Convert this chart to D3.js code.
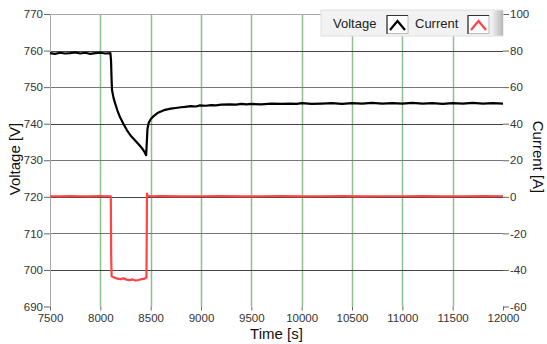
<!DOCTYPE html>
<html>
<head>
<meta charset="utf-8">
<script src="https://cdn.jsdelivr.net/npm/d3@7"></script>
<style>
  body { margin: 0; background: #fff; }
  svg { display: block; font-family: "Liberation Sans", Arial, sans-serif; }
  .tick-label { font-size: 11.5px; fill: #333; }
  .axis-title { font-size: 15px; fill: #111; }
  .legend-text { font-size: 13px; fill: #222; }
</style>
</head>
<body>
<div id="chart"></div>
<script>
// voltage trace [s, V]
var voltageTime = [7500, 7550, 7600, 7650, 7700, 7750, 7800, 7850, 7900, 7950, 8000, 8050, 8100,
  8106, 8112, 8116, 8130, 8146, 8170, 8195, 8230, 8265, 8300, 8344, 8380, 8414, 8440, 8455,
  8462, 8468, 8480, 8500, 8530, 8573, 8642, 8700, 8750, 8800, 8841, 8900, 8950, 8990,
  9050, 9100, 9150, 9200, 9288, 9350, 9400, 9450, 9500, 9600, 9700, 9800, 9884, 9950,
  10000, 10100, 10200, 10300, 10400, 10500, 10600, 10700, 10800, 10900, 11000,
  11100, 11200, 11300, 11400, 11500, 11600, 11700, 11800, 11900, 12000];
var voltageValues = [759.3, 759.1, 759.4, 759.2, 759.3, 759.5, 759.2, 759.4, 759.1, 759.3, 759.4, 759.2, 759.3,
  757.4, 752.0, 749.2, 747.2, 745.6, 743.6, 741.8, 739.9, 738.2, 736.8, 735.5, 734.4, 733.3, 732.2, 731.4,
  735.0, 738.5, 740.2, 741.2, 742.1, 743.0, 743.8, 744.1, 744.3, 744.5, 744.6, 744.8, 744.7, 745.0,
  744.9, 745.1, 745.0, 745.2, 745.3, 745.2, 745.4, 745.3, 745.4, 745.3, 745.5, 745.4, 745.5, 745.4,
  745.6, 745.4, 745.5, 745.6, 745.4, 745.6, 745.5, 745.7, 745.5, 745.6, 745.5,
  745.7, 745.5, 745.6, 745.4, 745.6, 745.5, 745.7, 745.5, 745.6, 745.5];

// current trace [s, A]
var currentTime = [7500, 7600, 7700, 7800, 7900, 8000, 8050, 8104,
  8108, 8112, 8140, 8170, 8200, 8230, 8260, 8290, 8320, 8350, 8380, 8410, 8440, 8458,
  8461, 8463, 8470, 8500, 8600, 8800, 9000, 9200, 9400, 9600, 9800, 10000,
  10200, 10400, 10600, 10800, 11000, 11200, 11400, 11600, 11800, 12000];
var currentValues = [0.3, 0.2, 0.4, 0.3, 0.2, 0.4, 0.3, 0.3,
  -33, -43.5, -44.2, -44.8, -45.0, -44.6, -45.3, -45.6, -45.2, -45.8, -45.5, -45.0, -44.8, -44.2,
  -20, 1.8, 0.6, 0.3, 0.4, 0.2, 0.3, 0.4, 0.2, 0.3, 0.4, 0.2,
  0.3, 0.4, 0.2, 0.3, 0.3, 0.4, 0.2, 0.3, 0.4, 0.3];

var xTicks = [7500, 8000, 8500, 9000, 9500, 10000, 10500, 11000, 11500, 12000];
var yLeftTicks = [690, 700, 710, 720, 730, 740, 750, 760, 770];
var yRightTicks = [-60, -40, -20, 0, 20, 40, 60, 80, 100];

var svgWidth = 547, svgHeight = 344;
var margin = { top: 14, right: 44, bottom: 37.5, left: 50 };
var width = svgWidth - margin.left - margin.right;
var height = svgHeight - margin.top - margin.bottom;

var x = d3.scaleLinear().domain([7500, 12000]).range([0, width]);
var yV = d3.scaleLinear().domain([690, 770]).range([height, 0]);
var yA = d3.scaleLinear().domain([-60, 100]).range([height, 0]);

var svg = d3.select("#chart").append("svg")
  .attr("width", svgWidth)
  .attr("height", svgHeight);

var g = svg.append("g")
  .attr("transform", "translate(" + margin.left + "," + margin.top + ")");

// vertical gridlines - green
g.append("g")
  .selectAll("line")
  .data(xTicks.slice(1, -1))
  .enter().append("line")
  .attr("x1", d => Math.round(x(d)) + 0.5)
  .attr("x2", d => Math.round(x(d)) + 0.5)
  .attr("y1", 0)
  .attr("y2", height)
  .attr("stroke", "#8dc08d")
  .attr("stroke-width", 1.5);

// horizontal gridlines
g.append("g")
  .selectAll("line")
  .data(yLeftTicks.slice(1))
  .enter().append("line")
  .attr("x1", 0)
  .attr("x2", width)
  .attr("y1", d => Math.round(yV(d)) + 0.5)
  .attr("y2", d => Math.round(yV(d)) + 0.5)
  .attr("stroke", d => d === 770 ? "#aaa" : (d % 20 === 0 ? "#444" : "#777"))
  .attr("stroke-width", 1);

// left axis
var leftAxis = g.append("g")
  .call(d3.axisLeft(yV).tickValues(yLeftTicks).tickSize(6).tickPadding(1));
leftAxis.select(".domain").attr("stroke", "#aaa").attr("d", "M0.5,0V" + height);
leftAxis.selectAll(".tick line").attr("stroke", "#666");
leftAxis.selectAll(".tick text").attr("class", "tick-label").attr("font-family", null).attr("font-size", null);

// right axis
var rightAxis = g.append("g")
  .attr("transform", "translate(" + width + ",0)")
  .call(d3.axisRight(yA).tickValues(yRightTicks).tickSize(6).tickPadding(1)
    .tickFormat(d => d < 0 ? "-" + Math.abs(d) : d));
rightAxis.select(".domain").remove();
rightAxis.selectAll(".tick line").attr("stroke", "#666");
rightAxis.selectAll(".tick text").attr("class", "tick-label").attr("font-family", null).attr("font-size", null);

// bottom axis
var bottomAxis = g.append("g")
  .attr("transform", "translate(0," + height + ")")
  .call(d3.axisBottom(x).tickValues(xTicks).tickSize(4).tickPadding(3).tickFormat(d3.format("d")));
bottomAxis.select(".domain").remove();
bottomAxis.selectAll(".tick line").attr("stroke", "#666");
bottomAxis.selectAll(".tick text").attr("class", "tick-label").attr("font-family", null).attr("font-size", null);

// current line
var currentLine = d3.line()
  .x((d, i) => x(currentTime[i]))
  .y(d => yA(d));
g.append("path")
  .datum(currentValues)
  .attr("fill", "none")
  .attr("stroke", "#ff4444")
  .attr("stroke-width", 2.2)
  .attr("stroke-linejoin", "round")
  .attr("d", currentLine);

// voltage line
var voltageLine = d3.line()
  .x((d, i) => x(voltageTime[i]))
  .y(d => yV(d));
g.append("path")
  .datum(voltageValues)
  .attr("fill", "none")
  .attr("stroke", "#000")
  .attr("stroke-width", 2.2)
  .attr("stroke-linejoin", "round")
  .attr("d", voltageLine);

// axis titles
svg.append("text")
  .attr("class", "axis-title")
  .attr("x", margin.left + width / 2)
  .attr("y", 339)
  .attr("text-anchor", "middle")
  .text("Time [s]");

svg.append("text")
  .attr("class", "axis-title")
  .attr("transform", "translate(20,159) rotate(-90)")
  .attr("text-anchor", "middle")
  .text("Voltage [V]");

svg.append("text")
  .attr("class", "axis-title")
  .attr("transform", "translate(533,157) rotate(90)")
  .attr("text-anchor", "middle")
  .text("Current [A]");

// legend
var defs = svg.append("defs");
var grad = defs.append("linearGradient").attr("id", "legend-edge").attr("x1", 0).attr("x2", 1);
grad.append("stop").attr("offset", "0%").attr("stop-color", "#f4f4f4");
grad.append("stop").attr("offset", "100%").attr("stop-color", "#b8b8b8");

var legend = svg.append("g").attr("transform", "translate(321,10)");
legend.append("rect")
  .attr("width", 182).attr("height", 26)
  .attr("fill", "#f2f2f2")
  .attr("stroke", "#e0e0e0");
legend.append("rect")
  .attr("x", 170).attr("y", 0.5).attr("width", 12).attr("height", 25)
  .attr("fill", "url(#legend-edge)");

var legendItems = [
  { label: "Voltage", color: "#000", tx: 12, bx: 66 },
  { label: "Current", color: "#ff4444", tx: 94, bx: 147 }
];
legendItems.forEach(function(item) {
  legend.append("text")
    .attr("class", "legend-text")
    .attr("x", item.tx)
    .attr("y", 18)
    .text(item.label);
  legend.append("rect")
    .attr("x", item.bx).attr("y", 5.5)
    .attr("width", 21).attr("height", 18)
    .attr("fill", "#fff")
    .attr("stroke", "#bbb");
  legend.append("path")
    .attr("d", "M" + item.bx + ",24 V5.5 H" + (item.bx + 21))
    .attr("fill", "none")
    .attr("stroke", "#333")
    .attr("stroke-width", 1.2);
  legend.append("path")
    .attr("d", "M" + (item.bx + 3) + ",20 L" + (item.bx + 10.5) + ",11 L" + (item.bx + 18) + ",20")
    .attr("fill", "none")
    .attr("stroke", item.color)
    .attr("stroke-width", 2.2);
});
</script>
</body>
</html>
